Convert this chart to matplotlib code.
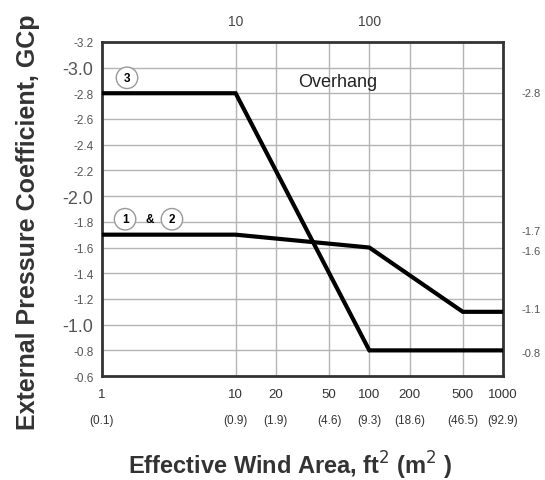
import matplotlib
matplotlib.use("Agg")
import matplotlib.pyplot as plt
from matplotlib.transforms import blended_transform_factory

plt.rcParams["font.family"] = ["Liberation Sans", "DejaVu Sans"]

# effective wind area (ft^2) and GCp for the overhang zones
area_ft2 = [1, 10, 100, 500, 1000]
zone3_gcp = [-2.8, -2.8, -0.8, -0.8, -0.8]
zone12_gcp = [-1.7, -1.7, -1.6, -1.1, -1.1]

x_ticks = [1, 10, 20, 50, 100, 200, 500, 1000]
x_metric = ["(0.1)", "(0.9)", "(1.9)", "(4.6)", "(9.3)", "(18.6)", "(46.5)", "(92.9)"]
x_grid = [10, 20, 50, 100, 200, 500]
top_ticks = [10, 100]

y_ticks = [-3.2, -3.0, -2.8, -2.6, -2.4, -2.2, -2.0, -1.8, -1.6, -1.4, -1.2, -1.0, -0.8, -0.6]
y_big = [-3.0, -2.0, -1.0]

right_labels = ["-2.8", "-1.7", "-1.6", "-1.1", "-0.8"]
right_pos = [-2.8, -1.73, -1.57, -1.12, -0.78]

fig = plt.figure(figsize=(5.45, 4.81), dpi=100)
ax = fig.add_axes([0.187, 0.216, 0.736, 0.695])

ax.set_xscale("log")
ax.set_xlim(1, 1000)
ax.set_ylim(-0.6, -3.2)

for xv in x_grid:
    ax.axvline(xv, color="#b4b4b4", lw=1.0, zorder=1)
for yv in y_ticks[1:-1]:
    ax.axhline(yv, color="#b4b4b4", lw=1.0, zorder=1)

ax.plot(area_ft2, zone3_gcp, color="black", lw=3, zorder=3, solid_joinstyle="miter")
ax.plot(area_ft2, zone12_gcp, color="black", lw=3, zorder=3, solid_joinstyle="miter")

for s in ax.spines.values():
    s.set_linewidth(2)
    s.set_color("#333333")

ax.set_xticks([])
ax.set_xticks([], minor=True)
ax.set_yticks(y_ticks)
ax.set_yticklabels([f"{v:.1f}" for v in y_ticks])
for lbl, v in zip(ax.get_yticklabels(), y_ticks):
    big = any(abs(v - b) < 1e-6 for b in y_big)
    lbl.set_fontsize(13 if big else 8.5)
    lbl.set_color("#555555")
ax.tick_params(axis="y", length=0, pad=6)

tb = blended_transform_factory(ax.transData, ax.transAxes)
for xv, mt in zip(x_ticks, x_metric):
    ax.text(xv, -0.055, str(xv), transform=tb, ha="center", va="center",
            fontsize=9.5, color="#333333")
    ax.text(xv, -0.13, mt, transform=tb, ha="center", va="center",
            fontsize=8.5, color="#333333")
for xv in top_ticks:
    ax.text(xv, 1.063, str(xv), transform=tb, ha="center", va="center",
            fontsize=10, color="#444444")

tr = blended_transform_factory(ax.transAxes, ax.transData)
for lbl, yv in zip(right_labels, right_pos):
    ax.text(1.045, yv, lbl, transform=tr, ha="left", va="center",
            fontsize=8, color="#555555")

circ = dict(boxstyle="circle,pad=0.4", fc="white", ec="#999999", lw=1)
ax.text(1.54, -2.92, "3", ha="center", va="center", fontsize=8.5,
        fontweight="bold", bbox=circ, zorder=4)
ax.text(1.49, -1.82, "1", ha="center", va="center", fontsize=8.5,
        fontweight="bold", bbox=circ, zorder=4)
ax.text(2.29, -1.82, "&", ha="center", va="center", fontsize=8.5,
        fontweight="bold", zorder=4)
ax.text(3.34, -1.82, "2", ha="center", va="center", fontsize=8.5,
        fontweight="bold", bbox=circ, zorder=4)

ax.text(58, -2.89, "Overhang", ha="center", va="center", fontsize=13,
        color="#222222")

fig.text(0.051, 0.538, "External Pressure Coefficient, GCp", rotation=90,
         ha="center", va="center", fontsize=18, fontweight="bold",
         color="#333333")
fig.text(0.532, 0.031, "Effective Wind Area, ft$^{2}$ (m$^{2}$ )",
         ha="center", va="center", fontsize=17, fontweight="bold",
         color="#333333")

fig.savefig("out.png", dpi=100)
